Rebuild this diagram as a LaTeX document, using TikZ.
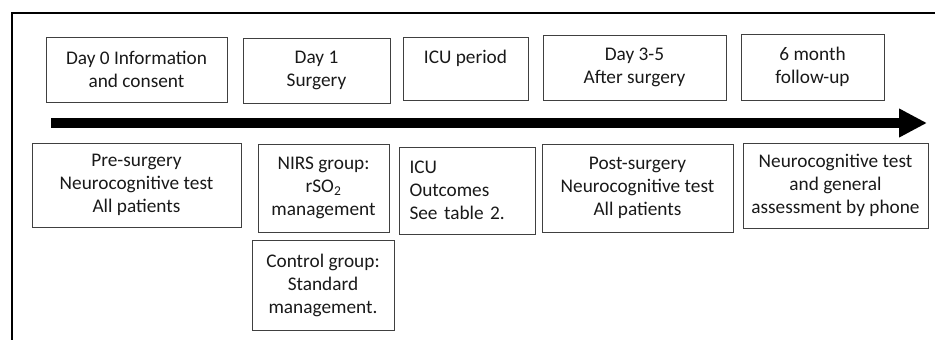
\documentclass[tikz,border=0pt]{standalone}
\usepackage{fontspec}
\setmainfont{Carlito}
\usetikzlibrary{arrows.meta}
\begin{document}
\begin{tikzpicture}[x=1pt, y=-1pt,
  box/.style={draw=black!75, line width=0.9pt, align=center, inner sep=0pt,
    font=\fontsize{19.3}{23}\selectfont, text=black!90}]
  \useasboundingbox (0,0) rectangle (935,340);
  \def\Yline{123}; % time line
  \def\Xstart{51};
  \def\Xend{927};

        % frame
        \draw[line width=2pt] (11,13) -- (935,13);
        \draw[line width=2pt] (12,13) -- (12,340);

        % time points
        \node[box, minimum width=181, minimum height=65] (day0) at (136.5, 69.5) {Day 0 Information\\and consent};
        \node[box, minimum width=147, minimum height=65] (day1) at (316.5, 70.5) {Day 1\\Surgery};
        \node[box, minimum width=125, minimum height=63] (icu) at (465.5, 68.5) {ICU period\\\mbox{}};
        \node[box, minimum width=183, minimum height=65] (day35) at (634.5, 67.5) {Day 3-5\\After surgery};
        \node[box, minimum width=143, minimum height=66] (month6) at (812.5, 67) {6 month\\follow-up};

        % time line
        \coordinate (tstart) at (\Xstart, \Yline);
        \coordinate (tend) at (\Xend, \Yline);
        \draw[line width=10pt, -{Triangle[length=28pt, width=27pt]}] (tstart) -- (tend);

        % what happens
        \node[box, minimum width=209, minimum height=84] (pre) at (136.5, 185) {Pre-surgery\\Neurocognitive test\\All patients};
        \node[box, minimum width=131, minimum height=88] (nirs) at (323.5, 188) {NIRS group:\\rSO\textsubscript{2}\\management};
        \node[box, minimum width=142, minimum height=90] (ctrl) at (323, 285) {Control group:\\Standard\\management.};
        \node[box, align=left, text width=115, minimum width=136, minimum height=87] (outc) at (467, 190.5) {ICU\\Outcomes\\See table 2.};
        \node[box, minimum width=191, minimum height=88] (post) at (637.5, 188) {Post-surgery\\Neurocognitive test\\All patients};
        \node[box, minimum width=185, minimum height=85] (phone) at (835.5, 185.5) {Neurocognitive test\\and general\\assessment by phone};
\end{tikzpicture}
\end{document}
